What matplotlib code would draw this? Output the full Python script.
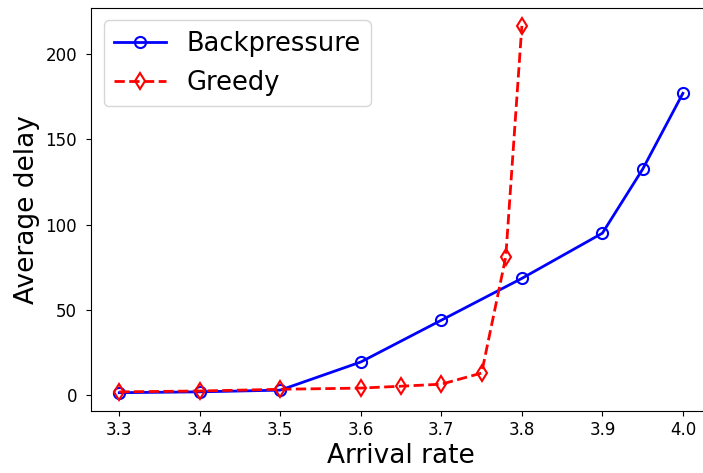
import matplotlib
matplotlib.use("Agg")
import matplotlib.pyplot as plt

bp_x = [3.3, 3.4, 3.5, 3.6, 3.7, 3.8, 3.9, 3.95, 4.0]
bp_y = [1.5, 2.0, 3.0, 19.5, 44.0, 68.5, 95.0, 132.5, 177.0]
gr_x = [3.3, 3.4, 3.5, 3.6, 3.65, 3.7, 3.75, 3.78, 3.8]
gr_y = [2.0, 2.5, 3.5, 4.2, 5.3, 6.5, 13.0, 81.0, 216.5]

fig = plt.figure(figsize=(7.03, 4.73), dpi=100)
ax = fig.add_axes([0.1295, 0.131, 0.882, 0.853])
ax.plot(bp_x, bp_y, 'b-o', mfc='none', lw=2, ms=8, mew=1.5, label='Backpressure')
ax.plot(gr_x, gr_y, 'r--d', mfc='none', lw=2, ms=8, mew=1.5, label='Greedy')
ax.set_xlabel('Arrival rate', fontsize=19, labelpad=3)
ax.set_ylabel('Average delay', fontsize=19)
ax.tick_params(labelsize=12)
ax.tick_params(axis='y', pad=6.5)
ax.set_xticks([3.3, 3.4, 3.5, 3.6, 3.7, 3.8, 3.9, 4.0])
ax.set_yticks([0, 50, 100, 150, 200])
ax.legend(fontsize=18.5, loc='upper left')
fig.savefig('out.png', dpi=100)
